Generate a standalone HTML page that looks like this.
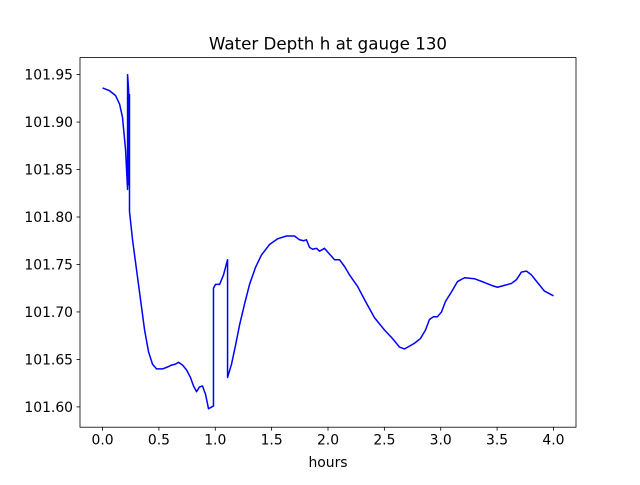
<!DOCTYPE html>
<html><head><meta charset="utf-8"><style>
body{margin:0;background:#fff;width:640px;height:480px;overflow:hidden}
svg text{font-family:"DejaVu Sans","Liberation Sans",sans-serif;fill:#000}
</style></head><body>
<svg id="chart" width="640" height="480" xmlns="http://www.w3.org/2000/svg">
<rect width="640" height="480" fill="#fff"/>
<text x="328" y="49.5" font-size="16.7" text-anchor="middle">Water Depth h at gauge 130</text>
<text x="328" y="467" font-size="13.9" text-anchor="middle">hours</text>
<g id="axes"></g>
</svg>
<script>
const hours=[0,0.062,0.115,0.151,0.177,0.204,0.222,0.222,0.231,0.231,0.239,0.239,0.266,0.302,0.337,0.373,0.408,0.443,0.479,0.532,0.576,0.612,0.647,0.674,0.71,0.745,0.78,0.807,0.834,0.86,0.887,0.914,0.94,0.984,0.984,1.002,1.038,1.073,1.109,1.109,1.144,1.18,1.215,1.259,1.304,1.357,1.41,1.481,1.552,1.632,1.703,1.747,1.783,1.809,1.836,1.863,1.898,1.925,1.969,2.013,2.058,2.102,2.146,2.191,2.262,2.333,2.412,2.501,2.572,2.634,2.678,2.723,2.767,2.82,2.865,2.9,2.936,2.971,3.007,3.042,3.095,3.149,3.211,3.299,3.388,3.45,3.503,3.565,3.627,3.672,3.716,3.761,3.805,3.858,3.92,4.0];
const depth=[101.936,101.933,101.928,101.919,101.905,101.871,101.829,101.950,101.934,101.834,101.929,101.806,101.776,101.744,101.713,101.681,101.658,101.645,101.640,101.640,101.642,101.644,101.645,101.647,101.644,101.639,101.631,101.622,101.616,101.621,101.622,101.613,101.598,101.601,101.725,101.729,101.729,101.739,101.755,101.631,101.645,101.665,101.686,101.708,101.729,101.747,101.760,101.771,101.777,101.780,101.780,101.776,101.775,101.776,101.768,101.766,101.767,101.764,101.767,101.761,101.755,101.755,101.748,101.739,101.727,101.711,101.694,101.681,101.672,101.663,101.661,101.664,101.667,101.672,101.681,101.692,101.695,101.695,101.700,101.711,101.721,101.732,101.736,101.735,101.731,101.728,101.726,101.728,101.730,101.734,101.742,101.743,101.739,101.731,101.722,101.717];
const xTicks=[0,0.5,1.0,1.5,2.0,2.5,3.0,3.5,4.0];
const xTickLabels=["0.0","0.5","1.0","1.5","2.0","2.5","3.0","3.5","4.0"];
const yTicks=[101.60,101.65,101.70,101.75,101.80,101.85,101.90,101.95];
const yTickLabels=["101.60","101.65","101.70","101.75","101.80","101.85","101.90","101.95"];
const L=80,R=576,T=57.6,B=427.2;
const xmin=-0.2,xmax=4.2,ymin=101.5786,ymax=101.9679;
const sx=v=>L+(v-xmin)/(xmax-xmin)*(R-L);
const sy=v=>B-(v-ymin)/(ymax-ymin)*(B-T);
const NS="http://www.w3.org/2000/svg";
const g=document.getElementById('axes');
function mk(tag,attrs){const e=document.createElementNS(NS,tag);for(const k in attrs)e.setAttribute(k,attrs[k]);g.appendChild(e);return e;}
const line=mk('path',{d:hours.map((h,i)=>(i?'L':'M')+sx(h).toFixed(2)+' '+sy(depth[i]).toFixed(2)).join(' '),fill:'none',stroke:'#0000ff','stroke-width':1.5,'stroke-linejoin':'round'});


const frame=mk('rect',{x:L,y:T,width:R-L,height:B-T,fill:'none',stroke:'#000','stroke-width':0.8});


xTicks.forEach((v,i)=>{const x=sx(v);
const t=mk('line',{x1:x,x2:x,y1:B,y2:B+3.5,stroke:'#000','stroke-width':0.8});


const tx=mk('text',{x:x,y:B+17.5,'font-size':13.9,'text-anchor':'middle'});tx.textContent=xTickLabels[i];

});
yTicks.forEach((v,i)=>{const y=sy(v);
const t=mk('line',{x1:L-3.5,x2:L,y1:y,y2:y,stroke:'#000','stroke-width':0.8});


const tx=mk('text',{x:L-7,y:y+5,'font-size':13.9,'text-anchor':'end'});tx.textContent=yTickLabels[i];

});
</script>
</body></html>
